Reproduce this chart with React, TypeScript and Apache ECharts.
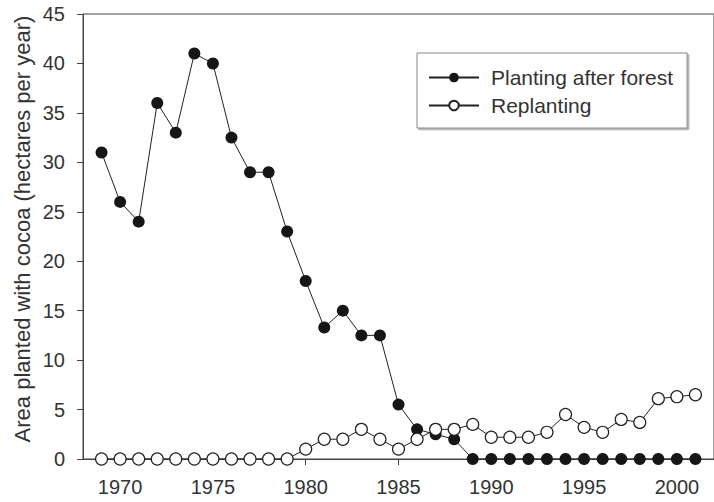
import React, { useEffect, useRef } from "react";
import * as echarts from "echarts";

// Years of record
const years: number[] = [
  1969, 1970, 1971, 1972, 1973, 1974, 1975, 1976, 1977, 1978, 1979, 1980,
  1981, 1982, 1983, 1984, 1985, 1986, 1987, 1988, 1989, 1990, 1991, 1992,
  1993, 1994, 1995, 1996, 1997, 1998, 1999, 2000, 2001,
];

// Hectares per year planted after forest clearing
const plantingAfterForest: number[] = [
  31, 26, 24, 36, 33, 41, 40, 32.5, 29, 29, 23, 18,
  13.3, 15, 12.5, 12.5, 5.5, 3, 2.5, 2, 0, 0, 0, 0,
  0, 0, 0, 0, 0, 0, 0, 0, 0,
];

// Hectares per year replanted on existing cocoa land
const replanting: number[] = [
  0, 0, 0, 0, 0, 0, 0, 0, 0, 0, 0, 1,
  2, 2, 3, 2, 1, 2, 3, 3, 3.5, 2.2, 2.2, 2.2,
  2.7, 4.5, 3.2, 2.7, 4, 3.7, 6.1, 6.3, 6.5,
];

const xTickYears: number[] = [1970, 1975, 1980, 1985, 1990, 1995, 2000];

const seriesNames = ["Planting after forest", "Replanting"];
const yTitle = "Area planted with cocoa (hectares per year)";

const FONT = "'Liberation Sans', Arial, sans-serif";
const INK = "#222";
const AXIS = "#444";

export default function App() {
  const ref = useRef<HTMLDivElement>(null);

  useEffect(() => {
    if (!ref.current) return;
    const chart = echarts.init(ref.current, undefined, { renderer: "svg" });

    const pair = (vals: number[]) => years.map((y, i) => [y, vals[i]]);

    chart.setOption({
      animation: false,
      backgroundColor: "#fff",
      textStyle: { fontFamily: FONT },
      grid: {
        left: 83,
        top: 14,
        right: -6,
        bottom: 43,
        show: true,
        borderColor: AXIS,
        borderWidth: 1,
        backgroundColor: "transparent",
      },
      xAxis: {
        type: "value",
        min: 1968,
        max: 2002,
        splitLine: { show: false },
        axisLine: { show: true, lineStyle: { color: AXIS, width: 1 } },
        axisTick: {
          show: true,
          inside: false,
          length: 6,
          customValues: xTickYears,
          lineStyle: { color: AXIS },
        },
        axisLabel: {
          customValues: xTickYears,
          fontSize: 20,
          color: "#333",
          margin: 18,
          fontFamily: FONT,
          formatter: (v: number) => String(v),
        },
      },
      yAxis: {
        type: "value",
        min: 0,
        max: 45,
        interval: 5,
        splitLine: { show: false },
        axisLine: { show: true, lineStyle: { color: AXIS, width: 1 } },
        axisTick: { show: true, inside: false, length: 6, lineStyle: { color: AXIS } },
        axisLabel: { fontSize: 20, color: "#333", margin: 18, fontFamily: FONT },
      },
      legend: {
        orient: "vertical",
        left: 417,
        top: 53,
        width: 270,
        itemWidth: 50,
        itemHeight: 12,
        itemGap: 7,
        padding: [14, 14, 12, 11],
        borderColor: "#888",
        borderWidth: 1,
        backgroundColor: "#fff",
        shadowColor: "rgba(0,0,0,0.35)",
        shadowOffsetX: 1.5,
        shadowOffsetY: 1.5,
        shadowBlur: 1,
        textStyle: {
          fontSize: 21,
          color: "#333",
          fontFamily: FONT,
          padding: [0, 0, 0, 7],
        },
        data: seriesNames,
      },
      graphic: [
        {
          type: "text",
          x: 22,
          y: 229,
          rotation: Math.PI / 2,
          style: {
            text: yTitle,
            fontSize: 22,
            fontFamily: FONT,
            fill: "#333",
            align: "center",
            verticalAlign: "middle",
          },
        },
      ],
      series: [
        {
          name: seriesNames[0],
          type: "line",
          data: pair(plantingAfterForest),
          symbol: "circle",
          symbolSize: 12,
          showAllSymbol: true,
          clip: false,
          lineStyle: { color: INK, width: 1 },
          itemStyle: { color: "#161616", borderColor: "#161616", borderWidth: 0 },
          z: 2,
        },
        {
          name: seriesNames[1],
          type: "line",
          data: pair(replanting),
          symbol: "circle",
          symbolSize: 12,
          showAllSymbol: true,
          clip: false,
          lineStyle: { color: INK, width: 1 },
          itemStyle: { color: "#fff", borderColor: INK, borderWidth: 1.2 },
          z: 3,
        },
      ],
    });

    return () => chart.dispose();
  }, []);

  return (
    <div
      ref={ref}
      style={{ position: "absolute", left: 0, top: 0, width: 714, height: 502 }}
    />
  );
}
